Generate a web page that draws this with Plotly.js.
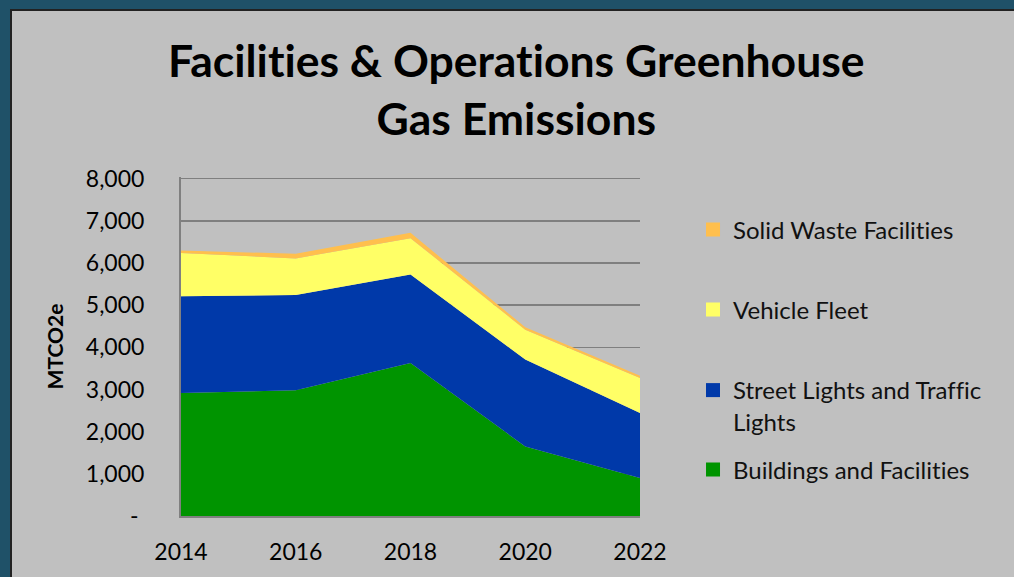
<!DOCTYPE html>
<html><head><meta charset="utf-8">
<script src="https://cdn.plot.ly/plotly-3.0.1.min.js"></script>
<style>
html,body{margin:0;padding:0;background:#1f5168;width:1014px;height:577px;overflow:hidden;}
#chart{position:absolute;left:10px;top:9px;width:1004px;height:568px;border-left:2px solid #222;border-top:2px solid #222;background:#c0c0c0;}
text{font-variant-ligatures:none;font-feature-settings:"liga" 0,"clig" 0;}
</style></head><body>
<div id="chart"></div>
<script>
const years = [2014, 2016, 2018, 2020, 2022];
const buildings = [2920, 2980, 3630, 1650, 900];
const streetLights = [2290, 2260, 2100, 2060, 1540];
const vehicleFleet = [1030, 870, 860, 710, 830];
const solidWaste = [55, 110, 125, 55, 55];
const seriesNames = ['Buildings and Facilities', 'Street Lights and Traffic<br>Lights', 'Vehicle Fleet', 'Solid Waste Facilities'];
const seriesColors = ['#009400', '#0039a9', '#ffff66', '#ffbf4d'];
const yTickVals = [0, 1000, 2000, 3000, 4000, 5000, 6000, 7000, 8000];
const yTickText = ['-\u2005', '1,000', '2,000', '3,000', '4,000', '5,000', '6,000', '7,000', '8,000'];

const FONT = 'Lato, "Open Sans", sans-serif';
const values = [buildings, streetLights, vehicleFleet, solidWaste];
const legendIds = ['legend4', 'legend3', 'legend2', 'legend'];
const data = [];
values.forEach((v, i) => {
  data.push({x: years, y: v, name: seriesNames[i], type: 'scatter', mode: 'lines', stackgroup: 'one',
    line: {width: 0, color: seriesColors[i]}, fillcolor: seriesColors[i], showlegend: false});
});
values.forEach((v, i) => {
  data.push({x: [null], y: [null], name: seriesNames[i], type: 'scatter', mode: 'markers',
    marker: {symbol: 'square', size: 14, color: seriesColors[i]}, showlegend: true, legend: legendIds[i]});
});

// plot area: 8000 at page y 179, 0 at page y 516
function py(pageY){ return (516 - pageY) / 339; }
function leg(y){
  return {x: 1.1155, xanchor: 'left', y: y, yanchor: 'middle', valign: 'top', bgcolor: 'rgba(0,0,0,0)',
    font: {family: FONT, size: 24, color: '#111'}, itemwidth: 30};
}
const layout = {
  width: 1002, height: 566,
  margin: {l: 169, r: 374, t: 166, b: 61},
  paper_bgcolor: '#c0c0c0', plot_bgcolor: '#c0c0c0',
  annotations: [{text: '<b>Facilities & Operations Greenhouse<br>Gas Emissions</b>', xref: 'paper', yref: 'paper',
    x: 0.732, y: py(89), xanchor: 'center', yanchor: 'middle', showarrow: false,
    font: {family: FONT, size: 44.5, color: '#000'}}],
  xaxis: {range: [2014, 2022], tickvals: years, ticktext: years.map(String), showgrid: false, zeroline: false,
    showline: true, linecolor: '#808080', linewidth: 2, ticks: '', ticklabelstandoff: 14,
    tickfont: {family: FONT, size: 23, color: '#000'}},
  yaxis: {range: [0, 8040], tickvals: yTickVals, ticktext: yTickText, showgrid: true, gridcolor: '#7f7f7f', gridwidth: 1.5,
    zeroline: false, showline: true, linecolor: '#808080', linewidth: 2, ticks: '', ticklabelstandoff: 30,
    tickfont: {family: FONT, size: 23, color: '#000'},
    title: {text: '<b>MTCO2e</b>', standoff: 16, font: {family: FONT, size: 21, color: '#000'}}},
  showlegend: true,
  legend: leg(py(230)), legend2: leg(py(310)), legend3: leg(py(406)), legend4: leg(py(470))
};
Plotly.newPlot('chart', data, layout, {displayModeBar: false, staticPlot: true});
</script>
</body></html>
